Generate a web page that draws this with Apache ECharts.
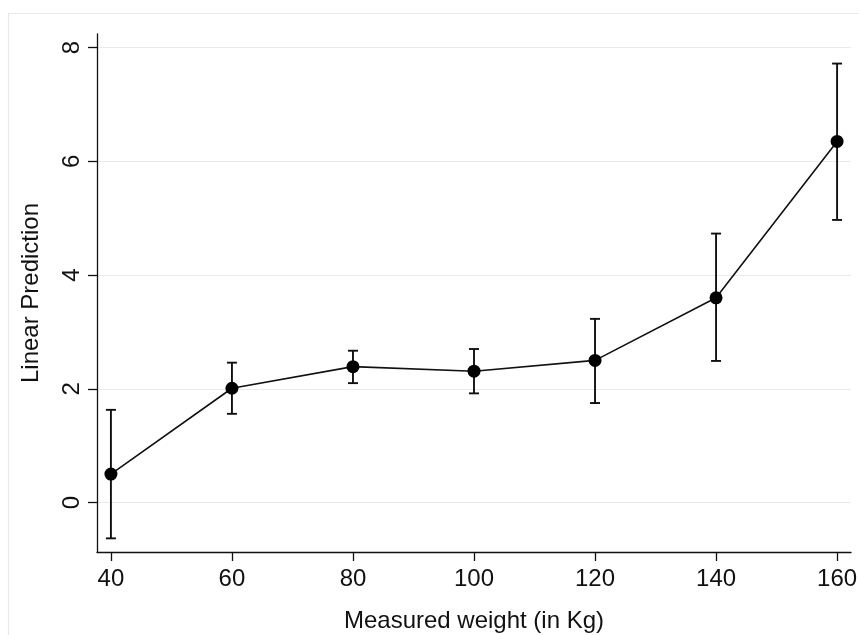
<!DOCTYPE html>
<html>
<head>
<meta charset="utf-8">
<script src="https://cdn.jsdelivr.net/npm/echarts@6/dist/echarts.min.js"></script>
<style>
  html, body { margin: 0; padding: 0; background: #ffffff; }
  #chart { width: 859px; height: 635px; }
</style>
</head>
<body>
<div id="chart"></div>
<script>
// Measured weight groups (kg) and linear predictions with 95% confidence limits
const weights = [40, 60, 80, 100, 120, 140, 160];
const prediction = [0.50, 2.01, 2.39, 2.31, 2.50, 3.60, 6.35];
const lowerCI = [-0.63, 1.56, 2.10, 1.92, 1.75, 2.49, 4.97];
const upperCI = [1.63, 2.46, 2.67, 2.70, 3.23, 4.73, 7.72];

const xTicks = [40, 60, 80, 100, 120, 140, 160];
const yTicks = [0, 2, 4, 6, 8];

const FONT = '"Liberation Sans", Arial, sans-serif';
const INK = '#111111';

const pointData = weights.map((w, i) => [w, prediction[i]]);
const ciData = weights.map((w, i) => [w, lowerCI[i], upperCI[i]]);

const chart = echarts.init(document.getElementById('chart'), null, { renderer: 'canvas' });

chart.setOption({
  backgroundColor: '#ffffff',
  animation: false,
  graphic: [{
    type: 'rect',
    left: 6, top: 11,
    shape: { width: 900, height: 700 },
    style: { fill: 'none', stroke: '#e9e9e9', lineWidth: 1.2 },
    silent: true,
    z: -10
  }],
  grid: { left: 97, right: 8, top: 34, bottom: 83, containLabel: false, outerBoundsMode: 'none' },
  xAxis: {
    type: 'value',
    min: 37.7,
    max: 162.3,
    name: 'Measured weight (in Kg)',
    nameLocation: 'middle',
    nameGap: 57,
    nameTextStyle: { fontFamily: FONT, fontSize: 24, color: INK },
    axisLine: { show: true, onZero: false, lineStyle: { color: INK, width: 1.3 } },
    axisTick: { show: true, length: 9, customValues: xTicks, lineStyle: { color: INK, width: 1.3 } },
    axisLabel: { customValues: xTicks, fontFamily: FONT, fontSize: 24, color: INK, margin: 15 },
    splitLine: { show: false }
  },
  yAxis: {
    type: 'value',
    min: -0.87,
    max: 8.24,
    name: 'Linear Prediction',
    nameLocation: 'middle',
    nameGap: 54,
    nameRotate: 90,
    nameTextStyle: { fontFamily: FONT, fontSize: 24, color: INK },
    axisLine: { show: true, onZero: false, lineStyle: { color: INK, width: 1.3 } },
    axisTick: { show: true, length: 9, customValues: yTicks, lineStyle: { color: INK, width: 1.3 } },
    axisLabel: { customValues: yTicks, rotate: 90, fontFamily: FONT, fontSize: 24, color: INK, margin: 13 },
    splitLine: { show: true, lineStyle: { color: '#ebebeb', width: 1.2 } }
  },
  series: [
    {
      // confidence interval whiskers with caps
      type: 'custom',
      data: ciData,
      z: 3,
      renderItem: function (params, api) {
        const x = api.value(0);
        const lo = api.coord([x, api.value(1)]);
        const hi = api.coord([x, api.value(2)]);
        const cap = 5;
        const style = { stroke: INK, lineWidth: 1.9, fill: null };
        return {
          type: 'group',
          children: [
            { type: 'line', shape: { x1: lo[0], y1: lo[1], x2: hi[0], y2: hi[1] }, style: style },
            { type: 'line', shape: { x1: hi[0] - cap, y1: hi[1], x2: hi[0] + cap, y2: hi[1] }, style: style },
            { type: 'line', shape: { x1: lo[0] - cap, y1: lo[1], x2: lo[0] + cap, y2: lo[1] }, style: style }
          ]
        };
      }
    },
    {
      type: 'line',
      data: pointData,
      z: 4,
      symbol: 'circle',
      symbolSize: 13,
      lineStyle: { color: INK, width: 1.6 },
      itemStyle: { color: '#000000' }
    }
  ]
});
</script>
</body>
</html>
